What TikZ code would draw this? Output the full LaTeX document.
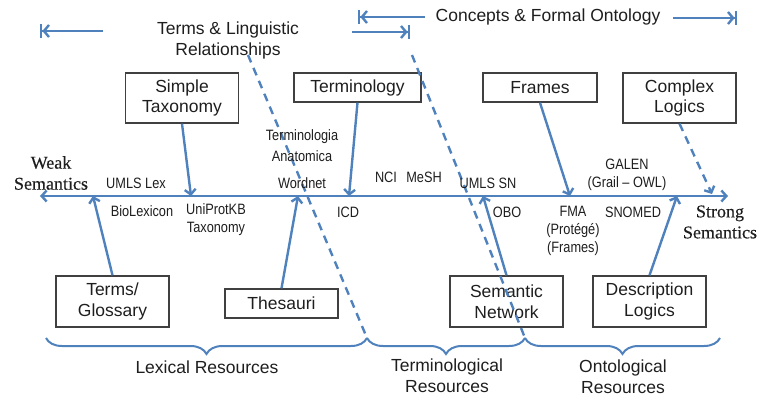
\documentclass[tikz,border=0pt]{standalone}
\usepackage{fontspec}
\setmainfont{Liberation Sans}
\newfontfamily\serifface[FakeBold=0.25]{Liberation Serif}
\newfontfamily\narrowface[FakeStretch=0.85,Ligatures=TeX]{Liberation Sans}
\usetikzlibrary{arrows.meta,decorations.pathreplacing,calc}
\definecolor{flowblue}{RGB}{79,129,189}
\definecolor{framegray}{RGB}{64,64,64}
\definecolor{inkgray}{RGB}{30,30,30}

\begin{document}
\begin{tikzpicture}[x=1pt,y=-1pt,
  box/.style={draw=framegray, line width=1.4pt, minimum width=113pt, align=center,
    font=\fontsize{17.5}{20.5}\selectfont, text=inkgray, inner sep=0pt},
  flow/.style={draw=flowblue, line width=2.4pt, -{Straight Barb[length=5pt,width=11pt]}},
  dashflow/.style={flow, dash pattern=on 8pt off 6pt},
  guide/.style={draw=flowblue, line width=2.4pt, dash pattern=on 8pt off 6pt},
  axisline/.style={draw=flowblue, line width=2.4pt,
    {Straight Barb[length=5pt,width=11pt]}-{Straight Barb[length=5pt,width=11pt]}},
  spanL/.style={draw=flowblue, line width=2.4pt,
    {Bar[width=14pt]Straight Barb[length=5pt,width=12pt]}-},
  spanR/.style={draw=flowblue, line width=2.4pt,
    -{Straight Barb[length=5pt,width=12pt]Bar[width=14pt]}},
  lbl/.style={font=\narrowface\fontsize{15}{18}\selectfont, text=inkgray, align=center, inner sep=0pt},
  big/.style={font=\fontsize{17.5}{21}\selectfont, text=inkgray, align=center, inner sep=0pt},
  sem/.style={font=\serifface\fontsize{18}{21}\selectfont, text=inkgray, align=center, inner sep=0pt},
  bracket/.style={draw=flowblue, line width=2pt, decorate, decoration={brace, mirror, amplitude=16pt}}
]
\useasboundingbox (0,0) rectangle (758,396);

% ---- scope arrows along the top
\coordinate (lingA) at (40,31);  \coordinate (lingB) at (103,31);
\coordinate (lingC) at (352,32); \coordinate (lingD) at (410,32);
\coordinate (ontA) at (358,17);  \coordinate (ontB) at (425,17);
\coordinate (ontC) at (673,18);  \coordinate (ontD) at (737,18);
\draw[spanL] (lingA) -- (lingB);
\draw[spanR] (lingC) -- (lingD);
\draw[spanL] (ontA) -- (ontB);
\draw[spanR] (ontC) -- (ontD);
\node[big] (ling) at (228,40) {Terms \& Linguistic\\Relationships};
\node[big] (ont) at (548,17) {Concepts \& Formal Ontology};

% ---- the semantic axis
\coordinate (wL) at (40,196);
\coordinate (wR) at (728,196);
\draw[axisline] (wL) -- (wR);
\node[sem] (weak) at (51,173) {Weak\\Semantics};
\node[sem] (strong) at (720,222) {Strong\\Semantics};

% ---- boxes above the axis
\node[box, minimum height=50pt] (st) at (182,98) {Simple\\Taxonomy};
\node[box, minimum height=29pt, minimum width=127pt] (term) at (357.5,87.5) {Terminology};
\node[box, minimum height=29pt, minimum width=114pt] (fr) at (540,87.5) {Frames};
\node[box, minimum height=50pt] (cl) at (679.5,98) {Complex\\Logics};

% ---- boxes below the axis
\node[box, minimum height=51pt] (tg) at (112.5,301.5) {Terms/\\Glossary};
\node[box, minimum height=29pt] (th) at (281.5,303.5) {Thesauri};
\node[box, minimum height=51pt] (sn) at (506.5,301.5) {Semantic\\Network};
\node[box, minimum height=51pt] (dl) at (649.5,301.5) {Description\\Logics};

% ---- where each kind meets the axis
\coordinate (pST) at (191,196);
\coordinate (pTm) at (349,196);
\coordinate (pFr) at (570,196);
\coordinate (pCL) at (712,194);
\coordinate (pTG) at (93,196);
\coordinate (pTh) at (298,196);
\coordinate (pSN) at (483,196);
\coordinate (pDL) at (677,196);

\draw[flow] (st.south) -- (pST);
\draw[flow] (term.south) -- (pTm);
\draw[flow] (fr.south) -- (pFr);
\draw[dashflow] (cl.south) -- (pCL);
\draw[flow] (tg.north) -- (pTG);
\draw[flow] (th.north) -- (pTh);
\draw[flow] (sn.north) -- (pSN);
\draw[flow] (dl.north) -- (pDL);

% ---- resource groups along the bottom
\coordinate (bA) at (46,338);
\coordinate (bB) at (367,338);
\coordinate (bC) at (525,338);
\coordinate (bD) at (720,338);
\draw[bracket] (bA) -- (bB);
\draw[bracket] (bB) -- (bC);
\draw[bracket] (bC) -- (bD);
\node[big] (lex) at (207,367) {Lexical Resources};
\node[big] (termres) at (447,376) {Terminological\\Resources};
\node[big] (ontres) at (623,377) {Ontological\\Resources};

% ---- dashed dividers
\coordinate (dA) at (248,55);
\coordinate (dB) at (412,55);
\draw[guide] (dA) -- (bB);
\draw[guide] (dB) -- (bC);

% ---- example resources
\node[lbl] (umlslex) at (136,183) {UMLS Lex};
\node[lbl] (biolex) at (142,211) {BioLexicon};
\node[lbl] (uniprot) at (216,220) {UniProtKB\\Taxonomy};
\node[lbl, font=\narrowface\fontsize{15}{21}\selectfont] (ta) at (302,146) {Terminologia\\Anatomica};
\node[lbl] (wordnet) at (302,183) {Wordnet};
\node[lbl] (icd) at (348,212) {ICD};
\node[lbl] (nci) at (386,177) {NCI};
\node[lbl] (mesh) at (424,177) {MeSH};
\node[lbl] (umlssn) at (488,183) {UMLS SN};
\node[lbl] (obo) at (507,212) {OBO};
\node[lbl] (fma) at (573,231) {FMA\\(Protégé)\\(Frames)};
\node[lbl] (snomed) at (633,212) {SNOMED};
\node[lbl] (galen) at (627,175) {GALEN\\(Grail – OWL)};
\end{tikzpicture}
\end{document}
